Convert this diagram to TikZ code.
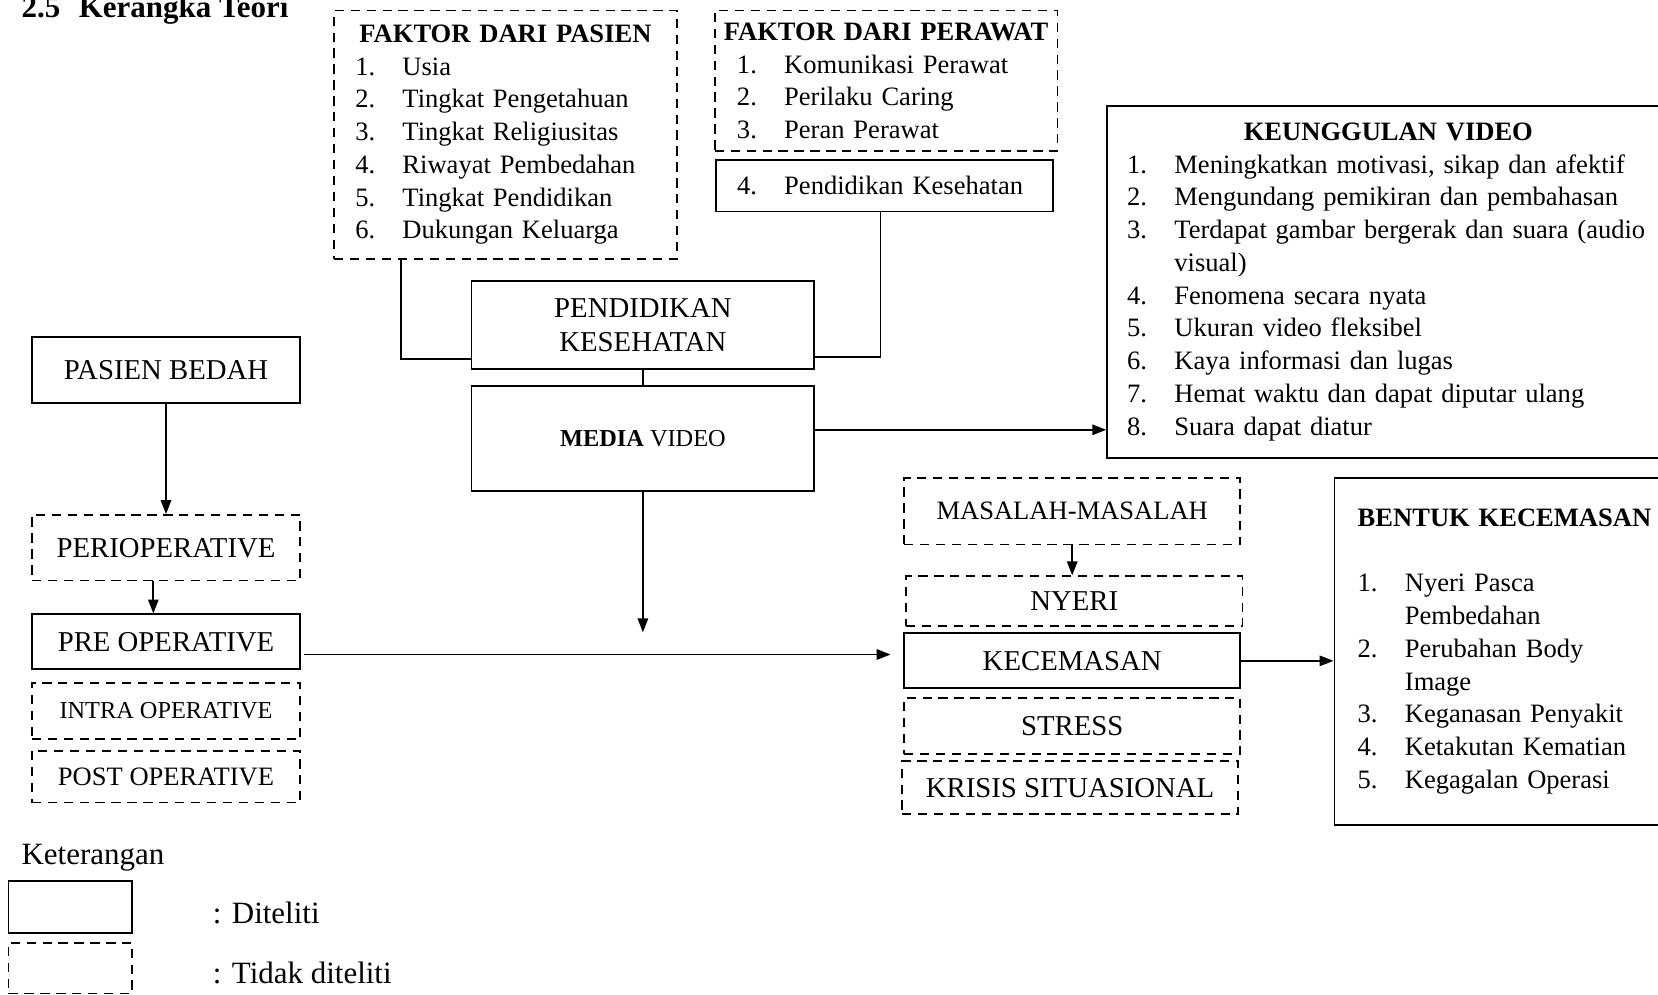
\documentclass[tikz,border=0pt]{standalone}
\usepackage{fontspec}
\setmainfont{Liberation Serif}
\usetikzlibrary{arrows.meta,calc}
\newcommand{\butir}[1]{\makebox[0.75cm][l]{#1}}
\newcommand{\judulkotak}[1]{\makebox[\linewidth]{\textbf{#1}}\par}

\begin{document}
\begin{tikzpicture}[x=0.0168cm, y=-0.0168cm,
  wh/.style 2 args={minimum width=#1*0.0168cm, minimum height=#2*0.0168cm},
  kotak/.style={draw, line width=0.8pt, align=center, inner sep=2pt},
  putus/.style={kotak, dash pattern=on 4.2pt off 3pt},
  besar/.style={font=\fontsize{13}{15.8}\selectfont},
  sedang/.style={font=\fontsize{12}{14.8}\selectfont},
  kecil/.style={font=\fontsize{11}{13}\selectfont},
  daftar/.style={sedang, align=left},
  legenda/.style={font=\fontsize{14}{16}\selectfont, inner sep=0pt},
  panah/.style={line width=0.8pt, -{Triangle[length=6.3pt,width=4.7pt]}},
  garis/.style={line width=0.6pt}]
\useasboundingbox (0,0) rectangle (1568,941);

\node[anchor=base west, inner sep=0pt, font=\fontsize{14}{16}\selectfont\bfseries] (judul) at (20,17) {2.5\hspace{8.4pt}Kerangka Teori};

% faktor-faktor
\node[putus, daftar, wh={324}{235}, text width=4.771cm, inner xsep=0.336cm] (fakPasien) at (478,127.5) {
\judulkotak{FAKTOR DARI PASIEN}
\butir{1.}Usia\\
\butir{2.}Tingkat Pengetahuan\\
\butir{3.}Tingkat Religiusitas\\
\butir{4.}Riwayat Pembedahan\\
\butir{5.}Tingkat Pendidikan\\
\butir{6.}Dukungan Keluarga};
\node[putus, daftar, wh={324}{133}, text width=4.738cm, inner xsep=0.353cm] (fakPerawat) at (838,76.5) {
\judulkotak{FAKTOR DARI PERAWAT}
\butir{1.}Komunikasi Perawat\\
\butir{2.}Perilaku Caring\\
\butir{3.}Peran Perawat};
\node[kotak, daftar, wh={319}{49}, text width=4.687cm, inner xsep=0.336cm] (pendKes4) at (836.5,175.5) {\butir{4.}Pendidikan Kesehatan};

% pendidikan dan media
\node[kotak, besar, wh={324}{83}] (pendidikan) at (608,307.5) {PENDIDIKAN\\KESEHATAN};
\node[kotak, kecil, wh={324}{99}] (media) at (608,414.5) {\textbf{MEDIA} VIDEO};
\node[kotak, daftar, wh={532}{333}, text width=8.299cm, inner xsep=0.319cm] (keunggulan) at (1313,266.5) {
\judulkotak{KEUNGGULAN VIDEO}
\butir{1.}Meningkatkan motivasi, sikap dan afektif\\
\butir{2.}Mengundang pemikiran dan pembahasan\\
\butir{3.}Terdapat gambar bergerak dan suara (audio\\
\butir{}visual)\\
\butir{4.}Fenomena secara nyata\\
\butir{5.}Ukuran video fleksibel\\
\butir{6.}Kaya informasi dan lugas\\
\butir{7.}Hemat waktu dan dapat diputar ulang\\
\butir{8.}Suara dapat diatur};

% pasien
\node[kotak, besar, wh={254}{62}] (pasienBedah) at (157,350) {PASIEN BEDAH};
\node[putus, besar, wh={254}{62}] (perio) at (157,518) {PERIOPERATIVE};
\node[kotak, besar, wh={254}{52}] (preOp) at (157,607) {PRE OPERATIVE};
\node[putus, kecil, wh={254}{53}] (intraOp) at (157,672.5) {INTRA OPERATIVE};
\node[putus, sedang, wh={254}{49}] (postOp) at (157,734.5) {POST OPERATIVE};

% kecemasan
\node[putus, sedang, wh={318}{63}] (masalah) at (1014,483.5) {MASALAH-MASALAH};
\node[putus, besar, wh={318}{47}] (nyeri) at (1016,568.5) {NYERI};
\node[kotak, besar, wh={318}{52}] (kecemasan) at (1014,625) {KECEMASAN};
\node[putus, besar, wh={318}{53}] (stress) at (1014,686.5) {STRESS};
\node[putus, besar, wh={318}{50}] (krisis) at (1012,745) {KRISIS SITUASIONAL};
\node[kotak, daftar, wh={328}{328}, text width=4.771cm, inner xsep=0.37cm] (bentuk) at (1426,616) {
\textbf{BENTUK KECEMASAN}\\[14.8pt]
\butir{1.}Nyeri Pasca\\
\butir{}Pembedahan\\
\butir{2.}Perubahan Body\\
\butir{}Image\\
\butir{3.}Keganasan Penyakit\\
\butir{4.}Ketakutan Kematian\\
\butir{5.}Kegagalan Operasi};

% keterangan
\node[anchor=base west, legenda] (ket) at (20,818) {Keterangan};
\node[kotak, wh={117}{49}] (lgTeliti) at (66.5,857.5) {};
\node[putus, wh={117}{48}] (lgTidak) at (66.5,915.5) {};
\node[anchor=base west, legenda] (ketTeliti) at (201,873) {: Diteliti};
\node[anchor=base west, legenda] (ketTidak) at (201,930) {: Tidak diteliti};

% garis dan panah
\draw[garis] ($(fakPasien.south west)+(64,0)$) |- ($(pendidikan.west)+(0,32)$);
\draw[garis] ($(pendKes4.south)+(-4,0)$) |- ($(pendidikan.east)+(0,30)$);
\draw[garis] (pendidikan) -- (media);
\draw[panah] ($(media.east)+(0,-8)$) -- ($(media.east -| keunggulan.west)+(0,-8)$);
\coordinate (ujungMedia) at (608,598);
\draw[panah] (media) -- (ujungMedia);
\draw[panah] (pasienBedah) -- (perio);
\draw[panah] ($(perio.south)+(-12,0)$) -- ($(preOp.north)+(-12,0)$);
\draw[panah, shorten >=5.7pt] ($(preOp.east)+(3,12)$) -- ($(kecemasan.west)+(0,-6)$);
\draw[panah] (masalah.south) -- (masalah.south |- nyeri.north);
\draw[panah] (kecemasan.east) -- (kecemasan.east -| bentuk.west);

\end{tikzpicture}
\end{document}
